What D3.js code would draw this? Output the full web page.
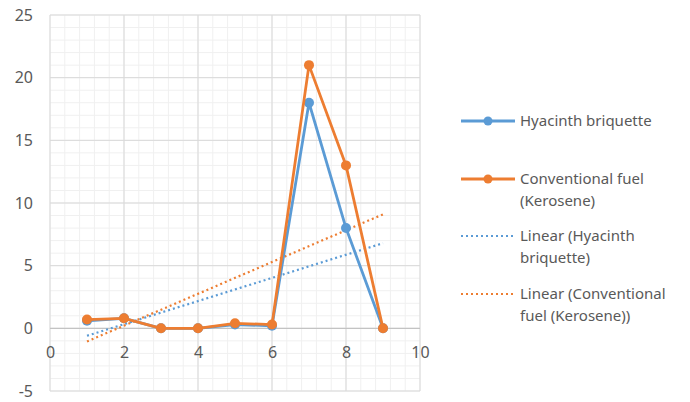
<!DOCTYPE html>
<html><head><meta charset="utf-8">
<script src="https://cdn.jsdelivr.net/npm/d3@7"></script>
<style>body{margin:0;background:#fff}svg{display:block}text{font-family:"Noto Sans",sans-serif;fill:#595959}</style>
</head><body><svg id="c" width="690" height="402"></svg>
<script>
const xs = [1,2,3,4,5,6,7,8,9];
const hyacinth = [0.6,0.8,0,0,0.3,0.2,18,8,0];
const kerosene = [0.7,0.8,0,0,0.4,0.3,21,13,0];
const xTicks = [0,2,4,6,8,10];
const yTicks = [-5,0,5,10,15,20,25];
const seriesNames = ["Hyacinth briquette","Conventional fuel (Kerosene)"];
const legendLabels = [["Hyacinth briquette"],["Conventional fuel","(Kerosene)"],["Linear (Hyacinth","briquette)"],["Linear (Conventional","fuel (Kerosene))"]];
const colors = ["#5B9BD5","#ED7D31"];

const svg = d3.select("#c");
const x = d3.scaleLinear().domain([0,10]).range([50,420]);
const y = d3.scaleLinear().domain([-5,25]).range([391,15]);

// minor grid
const g = svg.append("g");
d3.range(0,10.001,0.4).forEach(v=>g.append("line").attr("x1",x(v)).attr("x2",x(v)).attr("y1",y(-5)).attr("y2",y(25)).attr("stroke","#f0f0f0").attr("stroke-width",1));
d3.range(-5,25.001,1).forEach(v=>g.append("line").attr("x1",x(0)).attr("x2",x(10)).attr("y1",y(v)).attr("y2",y(v)).attr("stroke","#f0f0f0").attr("stroke-width",1));
// major grid
xTicks.forEach(v=>g.append("line").attr("x1",x(v)).attr("x2",x(v)).attr("y1",y(-5)).attr("y2",y(25)).attr("stroke","#d9d9d9").attr("stroke-width",1));
yTicks.forEach(v=>g.append("line").attr("x1",x(0)).attr("x2",x(10)).attr("y1",y(v)).attr("y2",y(v)).attr("stroke","#d9d9d9").attr("stroke-width",1));
// zero line
g.append("line").attr("x1",x(0)).attr("x2",x(10)).attr("y1",y(0)).attr("y2",y(0)).attr("stroke","#bfbfbf").attr("stroke-width",1);

// axes labels via d3 axes
const fmt = d => String(d);
const yAxis = svg.append("g").attr("transform",`translate(33,0)`).call(d3.axisLeft(y).tickValues(yTicks).tickFormat(fmt).tickSize(0).tickPadding(0));
const xAxis = svg.append("g").attr("transform",`translate(0,${y(0)+18})`).call(d3.axisBottom(x).tickValues(xTicks).tickFormat(fmt).tickSize(0).tickPadding(0));
[yAxis,xAxis].forEach(a=>{a.select(".domain").remove();a.selectAll("text").attr("font-size",16).attr("font-family",'"Noto Sans",sans-serif').attr("fill","#595959");});

// trendlines
function fit(ys){
  const mx=d3.mean(xs), my=d3.mean(ys);
  const b=d3.sum(xs.map((v,i)=>(v-mx)*(ys[i]-my)))/d3.sum(xs.map(v=>(v-mx)**2));
  return v=>my+b*(v-mx);
}
[hyacinth,kerosene].forEach((s,i)=>{
  const f=fit(s);
  svg.append("line").attr("x1",x(xs[0])).attr("y1",y(f(xs[0]))).attr("x2",x(xs[xs.length-1])).attr("y2",y(f(xs[xs.length-1])))
    .attr("stroke",colors[i]).attr("stroke-width",2.2).attr("stroke-dasharray","2 3");
});

const line = d3.line().x((d,i)=>x(xs[i])).y(d=>y(d));
[hyacinth,kerosene].forEach((s,i)=>{
  svg.append("path").attr("d",line(s)).attr("fill","none").attr("stroke",colors[i]).attr("stroke-width",2.8).attr("stroke-linejoin","round");
  svg.append("g").selectAll("circle").data(s).join("circle").attr("cx",(d,j)=>x(xs[j])).attr("cy",d=>y(d)).attr("r",5).attr("fill",colors[i]);
});

// legend
const lg = svg.append("g");
const ly = [121,179,236,294];
legendLabels.forEach((lab,i)=>{
  const c = colors[i%2];
  const row = lg.append("g");
  if(i<2){
    row.append("line").attr("x1",461).attr("x2",515).attr("y1",ly[i]).attr("y2",ly[i]).attr("stroke",c).attr("stroke-width",2.8);
    row.append("circle").attr("cx",488).attr("cy",ly[i]).attr("r",4.5).attr("fill",c);
  } else {
    row.append("line").attr("x1",461).attr("x2",515).attr("y1",ly[i]).attr("y2",ly[i]).attr("stroke",c).attr("stroke-width",2.2).attr("stroke-dasharray","2 3");
  }
  lab.forEach((t,k)=>row.append("text").attr("x",520).attr("y",ly[i]+5+k*22).attr("font-size",15).text(t));
});
</script></body></html>
